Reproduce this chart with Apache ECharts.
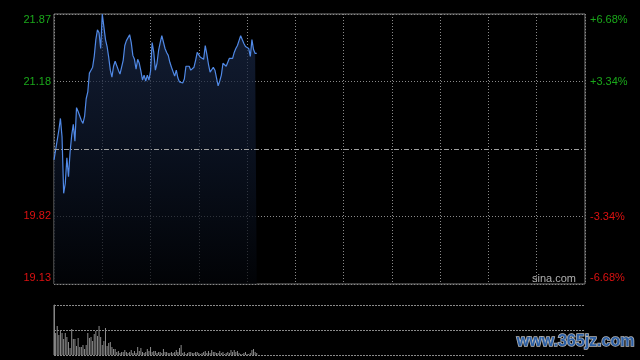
<!DOCTYPE html>
<html>
<head>
<meta charset="utf-8">
<script src="https://cdn.jsdelivr.net/npm/echarts@6/dist/echarts.min.js"></script>
<style>
html,body{margin:0;padding:0;background:#000;}
#c{width:640px;height:360px;}
</style>
</head>
<body>
<div id="c"></div>
<script>
// Minute index (0 = 9:30, trading day of 330 minutes)
const dayMinutes = 330;
const basePrice = 20.50;
const priceMin = 19.13;
const priceMax = 21.87;
const priceTickLabels = [19.13, 19.82, 21.18, 21.87];
const pctTickLabels = ['-6.68%', '-3.34%', '', '+3.34%', '+6.68%'];

const prices = [
  20.39, 20.49, 20.59, 20.69, 20.81, 20.62, 20.05, 20.15, 20.41, 20.22,
  20.47, 20.64, 20.75, 20.58, 20.92, 20.88, 20.90, 20.79, 20.76, 20.83,
  21.01, 21.08, 21.27, 21.30, 21.33, 21.44, 21.61, 21.71, 21.68, 21.52,
  21.87, 21.74, 21.61, 21.54, 21.43, 21.30, 21.23, 21.34, 21.39, 21.38,
  21.30, 21.26, 21.28, 21.40, 21.55, 21.60, 21.60, 21.66, 21.58, 21.45,
  21.41, 21.31, 21.41, 21.37, 21.29, 21.20, 21.25, 21.19, 21.25, 21.20,
  21.29, 21.58, 21.48, 21.30, 21.37, 21.50, 21.58, 21.65, 21.63, 21.52,
  21.48, 21.45, 21.38, 21.33, 21.33, 21.24, 21.30, 21.22, 21.18, 21.19,
  21.17, 21.21, 21.34, 21.36, 21.34, 21.30, 21.29, 21.33, 21.40, 21.48,
  21.46, 21.43, 21.41, 21.41, 21.55, 21.46, 21.36, 21.28, 21.30, 21.33,
  21.30, 21.28, 21.14, 21.19, 21.25, 21.37, 21.38, 21.34, 21.36, 21.42,
  21.44, 21.42, 21.48, 21.52, 21.55, 21.60, 21.65, 21.63, 21.57, 21.54,
  21.54, 21.52, 21.44, 21.61, 21.51, 21.47, 21.47
];

const volumes = [
  5000, 2200, 2900, 2000, 2500, 2200, 1600, 2200, 1800, 1300,
  700, 2600, 1600, 1600, 900, 1700, 800, 800, 1000, 600,
  1000, 2200, 1700, 1800, 1400, 2100, 2400, 1900, 2900, 1800,
  1000, 1400, 2700, 900, 1200, 1300, 800, 600, 600, 300,
  400, 200, 300, 300, 500, 300, 200, 300, 500, 200,
  400, 200, 800, 400, 700, 300, 200, 300, 600, 400,
  800, 300, 400, 400, 200, 300, 300, 200, 600, 300,
  300, 200, 200, 300, 200, 300, 500, 300, 700, 1000,
  200, 300, 100, 200, 300, 300, 200, 200, 300, 300,
  200, 100, 200, 300, 400, 200, 400, 200, 500, 300,
  300, 200, 200, 400, 200, 300, 100, 200, 300, 200,
  500, 300, 500, 300, 400, 200, 100, 100, 200, 300,
  100, 100, 200, 500, 600, 300, 200
];
const volMax = 5000;

const priceData = prices.map((p, i) => [i, p]);
const volData = volumes.map((v, i) => [i, v]);

const FONT = 'Liberation Sans, Arial, sans-serif';
const GREEN = '#1aa81a';
const RED = '#dd1111';
const GRID_GRAY = '#8a8a8a';

const chart = echarts.init(document.getElementById('c'), null, {renderer: 'canvas'});
chart.setOption({
  backgroundColor: '#000',
  animation: false,
  grid: [
    {left: 54, top: 14, width: 531, height: 270, show: true, borderColor: '#7f7f7f', borderWidth: 1, backgroundColor: 'transparent'},
    {left: 54, top: 305, width: 531, height: 50, show: false}
  ],
  xAxis: [
    {
      type: 'value', gridIndex: 0, min: 0, max: dayMinutes, interval: 30,
      axisLine: {show: false}, axisTick: {show: false}, axisLabel: {show: false},
      splitLine: {show: true, lineStyle: {color: GRID_GRAY, type: [1, 2], width: 1}}
    },
    {
      type: 'value', gridIndex: 1, min: 0, max: dayMinutes, interval: 30,
      axisLine: {show: false}, axisTick: {show: false}, axisLabel: {show: false},
      splitLine: {show: false}
    }
  ],
  yAxis: [
    {
      type: 'value', gridIndex: 0, position: 'left', min: priceMin, max: priceMax,
      axisLine: {show: false}, axisTick: {show: false},
      splitLine: {show: false},
      axisLabel: {
        show: true, margin: 3, customValues: priceTickLabels,
        formatter: function (v) {
          const s = v.toFixed(2);
          if (Math.abs(v - priceMax) < 0.001) return '{gt|' + s + '}';
          if (Math.abs(v - priceMin) < 0.001) return '{rb|' + s + '}';
          return v > basePrice ? '{g|' + s + '}' : '{r|' + s + '}';
        },
        rich: {
          g: {color: GREEN, fontSize: 11, fontFamily: FONT},
          r: {color: RED, fontSize: 11, fontFamily: FONT},
          gt: {color: GREEN, fontSize: 11, fontFamily: FONT, padding: [12, 0, 0, 0]},
          rb: {color: RED, fontSize: 11, fontFamily: FONT, padding: [0, 0, 12, 0]}
        }
      }
    },
    {
      type: 'value', gridIndex: 0, position: 'right', min: -6.68, max: 6.68, interval: 3.34,
      axisLine: {show: false}, axisTick: {show: false},
      splitLine: {show: true, lineStyle: {color: [GRID_GRAY, GRID_GRAY, 'rgba(0,0,0,0)', GRID_GRAY, GRID_GRAY], type: [1, 2], width: 1}},
      axisLabel: {
        show: true, margin: 5,
        formatter: function (v, i) {
          const s = pctTickLabels[i];
          if (!s) return '';
          if (i === 4) return '{gt|' + s + '}';
          if (i === 0) return '{rb|' + s + '}';
          return i > 2 ? '{g|' + s + '}' : '{r|' + s + '}';
        },
        rich: {
          g: {color: GREEN, fontSize: 11, fontFamily: FONT},
          r: {color: RED, fontSize: 11, fontFamily: FONT},
          gt: {color: GREEN, fontSize: 11, fontFamily: FONT, padding: [12, 0, 0, 0]},
          rb: {color: RED, fontSize: 11, fontFamily: FONT, padding: [0, 0, 12, 0]}
        }
      }
    },
    {
      type: 'value', gridIndex: 1, position: 'right', min: 0, max: volMax, interval: volMax / 2,
      axisLine: {show: true, lineStyle: {color: '#7f7f7f', width: 1}},
      axisTick: {show: false}, axisLabel: {show: false},
      splitLine: {show: true, lineStyle: {color: GRID_GRAY, type: [2, 1], width: 1}}
    }
  ],
  series: [
    {
      type: 'line', xAxisIndex: 0, yAxisIndex: 0, data: priceData,
      showSymbol: false, symbol: 'none',
      lineStyle: {color: '#5089e6', width: 1.2},
      areaStyle: {
        origin: 'start',
        color: new echarts.graphic.LinearGradient(0, 0, 0, 1, [
          {offset: 0, color: '#1b2a4a'},
          {offset: 0.5, color: '#0e182c'},
          {offset: 1, color: '#020408'}
        ])
      },
      markLine: {
        silent: true, symbol: 'none', label: {show: false},
        lineStyle: {color: '#a0a0a0', type: [5, 2, 1, 2], width: 1},
        data: [{yAxis: basePrice}]
      },
      z: 3
    },
    {
      type: 'bar', xAxisIndex: 1, yAxisIndex: 2, data: volData,
      barWidth: 1, itemStyle: {color: '#8c8c8c'}, z: 3
    }
  ],
  graphic: [
    {
      type: 'text', left: 532, top: 273,
      style: {text: 'sina.com', fill: '#b0b0b0', font: '11px ' + FONT}
    },
    {
      type: 'text', left: 516, top: 333,
      style: {text: 'www.365jz.com', fill: '#2b5fa5', stroke: '#b8b8b8', lineWidth: 1.5,
        font: 'bold 16px ' + FONT}
    }
  ]
});
</script>
</body>
</html>
